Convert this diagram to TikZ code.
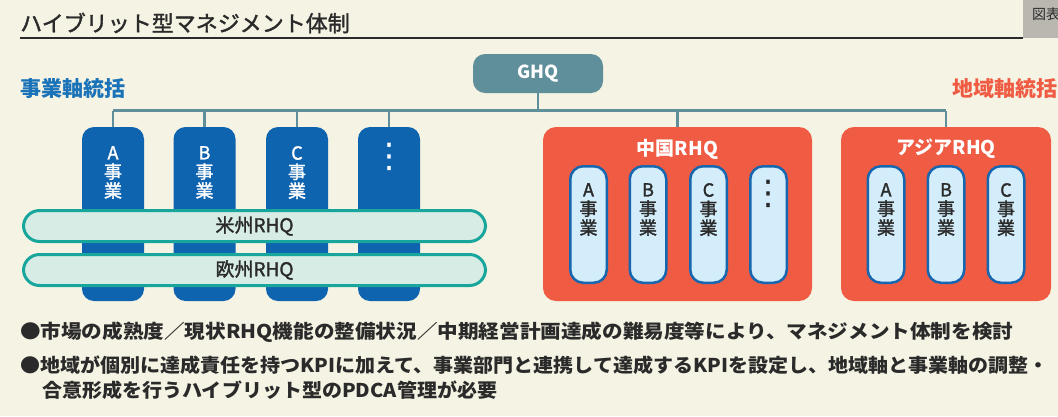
\documentclass[tikz,border=0pt]{standalone}
\usepackage{fontspec}
\usepackage{graphicx}
\setmainfont{Noto Sans CJK JP}
\newfontfamily\jpm[FakeBold=1.6]{Noto Sans CJK JP}
\newfontfamily\dv{DejaVu Sans}
\definecolor{bg}{HTML}{F5F3E3}
\definecolor{ghqc}{HTML}{5F8F9A}
\definecolor{bizc}{HTML}{0F64AF}
\definecolor{bizlabel}{HTML}{1A72B8}
\definecolor{regc}{HTML}{F05B43}
\definecolor{bandc}{HTML}{D6ECE4}
\definecolor{bandline}{HTML}{18A69C}
\definecolor{capc}{HTML}{D3EDFA}
\definecolor{capline}{HTML}{1766B0}
\definecolor{grayc}{HTML}{B9B7AF}
\definecolor{txt}{HTML}{2A2A2A}
\newcommand{\fs}[1]{\fontsize{#1}{#1}\selectfont}
\tikzset{
  conn/.style={draw=ghqc, line width=2.5pt},
  ghqbox/.style={fill=ghqc, rounded corners=12pt, minimum width=130pt, minimum height=39pt, inner sep=0pt, text=white, font=\fs{18}\bfseries},
  bizcol/.style={fill=bizc, rounded corners=12pt, minimum width=62pt, minimum height=174pt, inner sep=0pt},
  coltext/.style={text=white, font=\jpm\fs{18}, align=center, inner sep=0pt, anchor=north},
  dots/.style={inner sep=0pt, font=\dv\fs{34}},
  bandbox/.style={fill=bandc, draw=bandline, line width=3pt, rounded corners=16pt, minimum width=462pt, minimum height=31pt, inner sep=0pt, text=txt, font=\jpm\fs{19}},
  regbox/.style={fill=regc, rounded corners=13pt, minimum height=174pt, inner sep=0pt},
  regtitle/.style={text=white, font=\fs{19}\bfseries, inner sep=0pt},
  capbox/.style={fill=capc, draw=capline, line width=2.5pt, rounded corners=13pt, minimum width=36.5pt, minimum height=116.5pt, inner sep=0pt},
  captext/.style={text=txt, font=\jpm\fs{18}, align=center, inner sep=0pt, anchor=north},
  axislabel/.style={font=\fs{21}\bfseries, inner sep=0pt},
  bullet/.style={anchor=west, inner sep=0pt, text=txt, font=\fs{19}\bfseries}
}
\begin{document}
\begin{tikzpicture}[x=1pt,y=-1pt]
\fill[bg] (0,0) rectangle (1058,416);
\useasboundingbox (0,0) rectangle (1058,416);

% header
\node[anchor=west, inner sep=0pt, text=txt, font=\jpm\fs{22}] (title) at (20,23) {ハイブリット型マネジメント体制};
\coordinate (ulA) at (20,38);
\coordinate (ulB) at (1023,38);
\draw[line width=1.5pt, txt] (ulA) -- (ulB);
\fill[grayc] (1023,0) rectangle (1058,38);
\begin{scope}
\clip (1023,0) rectangle (1058,38);
\node[anchor=west, inner sep=0pt, text=txt, font=\fs{14}] (zuhyo) at (1032,14) {図表};
\end{scope}

% axis labels
\node[axislabel, anchor=west, text=bizlabel] (bizaxis) at (20,89) {事業軸統括};
\node[axislabel, anchor=east, text=regc] (regaxis) at (1058,89) {地域軸統括};

% GHQ
\node[ghqbox] (ghq) at (538,73.5) {GHQ};
\coordinate (bus) at (538,110.5);

% business columns
\node[bizcol] (colA) at (113,214) {};
\node[bizcol] (colB) at (204.5,214) {};
\node[bizcol] (colC) at (297,214) {};
\node[bizcol] (colD) at (389,214) {};
\node[coltext] (colAt) at (113,146) {A\\[1pt]事\\[1pt]業};
\node[coltext] (colBt) at (204.5,146) {B\\[1pt]事\\[1pt]業};
\node[coltext] (colCt) at (297,146) {C\\[1pt]事\\[1pt]業};
\node[dots, text=white] (colDt) at (389,157) {⋮};

% regional RHQ boxes
\node[regbox, minimum width=269pt] (china) at (677.5,214) {};
\node[regbox, minimum width=210pt] (asia) at (946,214) {};
\node[regtitle] (chinat) at (677.5,149) {中国RHQ};
\node[regtitle] (asiat) at (946,149) {アジアRHQ};

% connectors
\draw[conn] (ghq.south) -- (ghq.south |- bus);
\draw[conn] (colA.north |- bus) -- (asia.north |- bus);
\foreach \n in {colA,colB,colC,colD,china,asia}{
  \draw[conn] (\n.north) -- (\n.north |- bus);
}

% bands
\node[bandbox] (us) at (254.5,226) {米州RHQ};
\node[bandbox] (eu) at (254.5,270) {欧州RHQ};

% capsules
\node[capbox] (cA) at (588.5,224.5) {};
\node[capbox] (cB) at (648,224.5) {};
\node[capbox] (cC) at (708.5,224.5) {};
\node[capbox] (cD) at (768.5,224.5) {};
\node[capbox] (aA) at (886,224.5) {};
\node[capbox] (aB) at (946,224.5) {};
\node[capbox] (aC) at (1006,224.5) {};
\node[captext] (cAt) at (588.5,183) {A\\[1pt]事\\[1pt]業};
\node[captext] (cBt) at (648,183) {B\\[1pt]事\\[1pt]業};
\node[captext] (cCt) at (708.5,183) {C\\[1pt]事\\[1pt]業};
\node[dots, text=txt] (cDt) at (768.5,194) {⋮};
\node[captext] (aAt) at (886,183) {A\\[1pt]事\\[1pt]業};
\node[captext] (aBt) at (946,183) {B\\[1pt]事\\[1pt]業};
\node[captext] (aCt) at (1006,183) {C\\[1pt]事\\[1pt]業};

% bottom text
\node[bullet] (l1) at (20,332) {\resizebox{993pt}{\height}{●市場の成熟度／現状RHQ機能の整備状況／中期経営計画達成の難易度等により、マネジメント体制を検討}};
\node[bullet] (l2) at (20,365) {\resizebox{1028pt}{\height}{●地域が個別に達成責任を持つKPIに加えて、事業部門と連携して達成するKPIを設定し、地域軸と事業軸の調整・}};
\node[bullet] (l3) at (42,390) {\resizebox{455pt}{\height}{合意形成を行うハイブリット型のPDCA管理が必要}};
\end{tikzpicture}
\end{document}
